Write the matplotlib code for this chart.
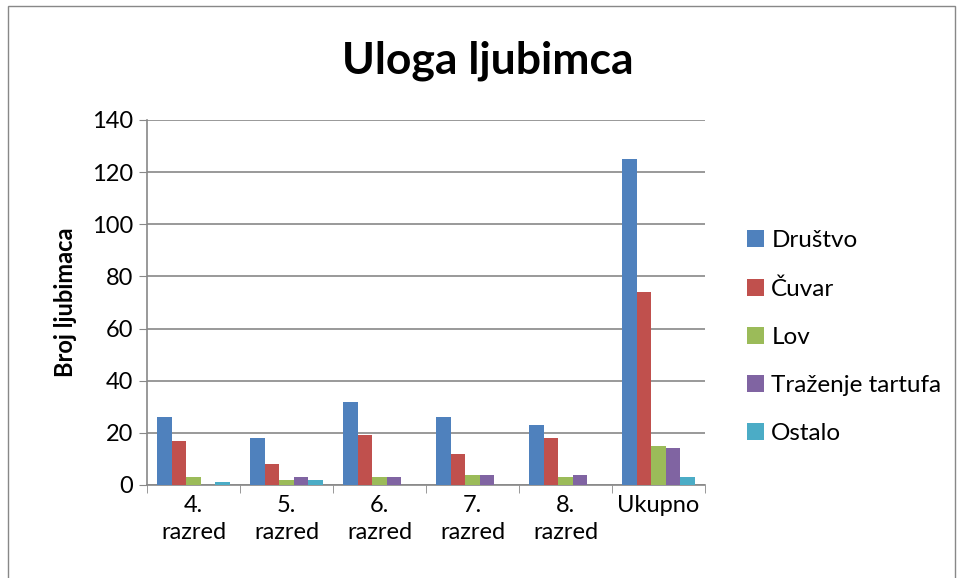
import matplotlib.pyplot as plt
import numpy as np
from matplotlib.patches import Rectangle

plt.rcParams['font.family'] = ['Lato', 'DejaVu Sans']

categories = ['4.\nrazred', '5.\nrazred', '6.\nrazred', '7.\nrazred', '8.\nrazred', 'Ukupno']
series = ['Društvo', 'Čuvar', 'Lov', 'Traženje tartufa', 'Ostalo']
drustvo = [26, 18, 32, 26, 23, 125]
cuvar = [17, 8, 19, 12, 18, 74]
lov = [3, 2, 3, 4, 3, 15]
tartufi = [0, 3, 3, 4, 4, 14]
ostalo = [1, 2, 0, 0, 0, 3]
colors = ['#4F81BD', '#C0504D', '#9BBB59', '#8064A2', '#4BACC6']

fig = plt.figure(figsize=(9.57, 5.78), dpi=100)
fig.patches.append(Rectangle((0.008, -0.01), 0.99, 1.0, transform=fig.transFigure,
                             fill=False, edgecolor='#888888', linewidth=1))
ax = fig.add_axes([0.1536, 0.1609, 0.5831, 0.6315])

x = np.arange(len(categories))
w = 0.155
for i, (vals, name) in enumerate(zip([drustvo, cuvar, lov, tartufi, ostalo], series)):
    ax.bar(x + (i - 2) * w, vals, w, color=colors[i], label=name, zorder=3)

ax.set_xlim(-0.5, len(categories) - 0.5)
ax.set_ylim(0, 140)
ax.set_yticks(range(0, 141, 20))
ax.set_xticks(x)
ax.set_xticklabels(categories, fontsize=17, linespacing=1.35)
ax.tick_params(axis='x', length=0, pad=7)
ax.set_xticks(np.arange(-0.5, len(categories), 1), minor=True)
ax.tick_params(axis='x', which='minor', length=6, color='#888888')
ax.tick_params(axis='y', labelsize=17, length=6, color='#888888', pad=4)
ax.yaxis.grid(True, color='#888888', linewidth=1.2, zorder=0)

for s in ['top', 'right']:
    ax.spines[s].set_visible(False)
for s in ['left', 'bottom']:
    ax.spines[s].set_color('#888888')
    ax.spines[s].set_linewidth(1.2)

ax.set_ylabel('Broj ljubimaca', fontsize=17, fontweight='bold', labelpad=11)
fig.text(0.51, 0.895, 'Uloga ljubimca', ha='center', va='center', fontsize=32, fontweight='bold')

ax.legend(loc='center left', bbox_to_anchor=(1.036, 0.405), frameon=False, fontsize=17.5,
          handlelength=0.7, handleheight=0.7, handletextpad=0.3, labelspacing=1.12)

fig.savefig('out.png', dpi=100)
